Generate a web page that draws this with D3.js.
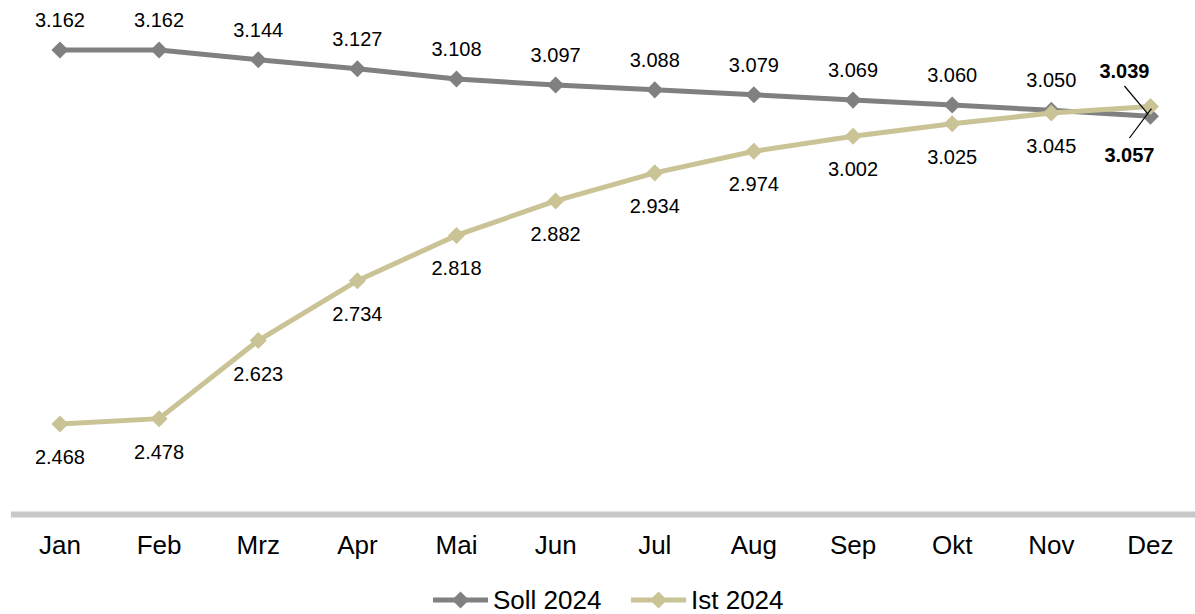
<!DOCTYPE html>
<html>
<head>
<meta charset="utf-8">
<script src="https://cdn.jsdelivr.net/npm/d3@7"></script>
<style>
  html, body { margin: 0; padding: 0; background: #fff; }
  svg text { font-family: "Liberation Sans", Arial, sans-serif; fill: #000; }
</style>
</head>
<body>
<svg id="chart" width="1195" height="614"></svg>
<script>
// Monthly values (in thousands)
const months = ["Jan", "Feb", "Mrz", "Apr", "Mai", "Jun", "Jul", "Aug", "Sep", "Okt", "Nov", "Dez"];
const soll2024 = [3.162, 3.162, 3.144, 3.127, 3.108, 3.097, 3.088, 3.079, 3.069, 3.060, 3.050, 3.039];
const ist2024 = [2.468, 2.478, 2.623, 2.734, 2.818, 2.882, 2.934, 2.974, 3.002, 3.025, 3.045, 3.057];
const seriesNames = ["Soll 2024", "Ist 2024"];
const seriesColors = ["#808080", "#c9c396"];

const fmt = v => v.toFixed(3);

const svg = d3.select("#chart");

const x = d3.scaleBand().domain(months).range([10.4, 1200]);
const y = d3.scaleLinear().domain([2.4, 3.2]).range([460.7, 29.5]);
const cx = m => x(m) + x.bandwidth() / 2;

// Category axis
const axisY = 514;
const xAxis = svg.append("g").attr("transform", `translate(0,${axisY})`)
  .call(d3.axisBottom(x).tickSize(0).tickPadding(0));
xAxis.select(".domain").attr("stroke", "#c8c8c8").attr("stroke-width", 6);
xAxis.selectAll("text")
  .style("font-family", '"Liberation Sans", Arial, sans-serif')
  .attr("font-size", 26).attr("fill", "#000").attr("y", 40).attr("dy", null);

const line = d3.line().x((d, i) => cx(months[i])).y(d => y(d));
const diamond = d3.symbol().type(d3.symbolDiamond2).size(185);

const series = [
  { name: seriesNames[0], values: soll2024, color: seriesColors[0], above: true },
  { name: seriesNames[1], values: ist2024, color: seriesColors[1], above: false }
];

series.forEach(s => {
  const g = svg.append("g");
  g.append("path").datum(s.values)
    .attr("fill", "none").attr("stroke", s.color).attr("stroke-width", 5)
    .attr("d", line);
  g.selectAll("path.pt").data(s.values).join("path").attr("class", "pt")
    .attr("transform", (d, i) => `translate(${cx(months[i])},${y(d)})`)
    .attr("d", diamond).attr("fill", s.color);
});

// Value labels (last month handled separately with leader lines)
series.forEach(s => {
  svg.append("g").selectAll("text").data(s.values.slice(0, -1)).join("text")
    .attr("x", (d, i) => cx(months[i]))
    .attr("y", d => y(d) + (s.above ? -30 : 33))
    .attr("dy", "0.35em")
    .attr("text-anchor", "middle").attr("font-size", 20)
    .text(fmt);
});

const last = months.length - 1;
const lx = cx(months[last]);
// Soll label above with leader line
const sY = y(soll2024[last]);
svg.append("line").attr("x1", lx - 26).attr("y1", 86).attr("x2", lx - 3).attr("y2", sY - 3)
  .attr("stroke", "#000").attr("stroke-width", 1.2);
svg.append("text").attr("x", lx - 26).attr("y", 71).attr("dy", "0.35em")
  .attr("text-anchor", "middle").attr("font-size", 20).attr("font-weight", "bold")
  .text(fmt(soll2024[last]));
// Ist label below with leader line
const iY = y(ist2024[last]);
svg.append("line").attr("x1", lx - 21).attr("y1", 138).attr("x2", lx + 1).attr("y2", iY + 2)
  .attr("stroke", "#000").attr("stroke-width", 1.2);
svg.append("text").attr("x", lx - 21).attr("y", 155).attr("dy", "0.35em")
  .attr("text-anchor", "middle").attr("font-size", 20).attr("font-weight", "bold")
  .text(fmt(ist2024[last]));

// Legend
const legendItems = [
  { name: seriesNames[0], color: seriesColors[0], x0: 433 },
  { name: seriesNames[1], color: seriesColors[1], x0: 631 }
];
const ly = 600;
legendItems.forEach(it => {
  const g = svg.append("g").attr("transform", `translate(${it.x0},${ly})`);
  g.append("line").attr("x1", 0).attr("x2", 55).attr("stroke", it.color).attr("stroke-width", 5);
  g.append("path").attr("transform", "translate(27.5,0)").attr("d", diamond).attr("fill", it.color);
  g.append("text").attr("x", 60).attr("y", 9).attr("font-size", 26).text(it.name);
});
</script>
</body>
</html>
